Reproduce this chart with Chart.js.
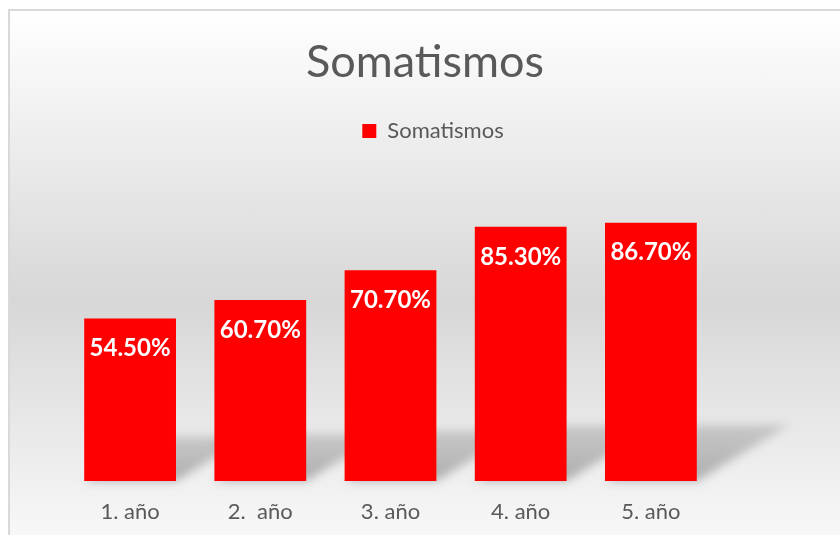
<!DOCTYPE html>
<html>
<head>
<meta charset="utf-8">
<script src="https://cdn.jsdelivr.net/npm/chart.js@4/dist/chart.umd.min.js"></script>
<style>
    html, body { margin: 0; padding: 0; background: #fff; overflow: hidden; }
    .frame {
        position: absolute; left: 8px; top: 9px; width: 900px; height: 620px;
        border: 2px solid #d9d9d9;
        background: linear-gradient(to bottom, #ffffff 0px, #d7d7d7 290px, #ffffff 580px);
    }
    #chart { position: absolute; left: 0; top: 0; }
</style>
</head>
<body>
<div class="frame"></div>
<canvas id="chart" width="840" height="535"></canvas>
<script>
const categories = ["1. año", "2.  año", "3. año", "4. año", "5. año"];
const seriesName = "Somatismos";
const values = [54.5, 60.7, 70.7, 85.3, 86.7];

const textGrey = "#595959";
const barRed = "#ff0000";

/* sombra en perspectiva detrás de las barras */
const barShadow = {
    id: "barShadow",
    beforeDatasetsDraw(chart) {
        const ctx = chart.ctx;
        const meta = chart.getDatasetMeta(0);
        ctx.save();
        ctx.filter = "blur(5px)";
        meta.data.forEach(bar => {
            const h = bar.base - bar.y;
            const dy = 0.12 * h + 25;
            const dx = 1.64 * dy;
            const l = bar.x - bar.width / 2;
            const r = bar.x + bar.width / 2;
            const g = ctx.createLinearGradient(0, bar.base, 0, bar.base - dy);
            g.addColorStop(0, "rgba(165,165,165,0.9)");
            g.addColorStop(1, "rgba(180,180,180,0.65)");
            ctx.fillStyle = g;
            ctx.beginPath();
            ctx.moveTo(l, bar.base);
            ctx.lineTo(r, bar.base);
            ctx.lineTo(r + dx, bar.base - dy);
            ctx.lineTo(l + dx, bar.base - dy);
            ctx.closePath();
            ctx.fill();
        });
        ctx.restore();
    }
};

/* etiquetas de valor dentro de la barra */
const valueLabels = {
    id: "valueLabels",
    afterDatasetsDraw(chart) {
        const ctx = chart.ctx;
        const meta = chart.getDatasetMeta(0);
        ctx.save();
        ctx.fillStyle = "#ffffff";
        ctx.font = "bold 24px Lato";
        ctx.textAlign = "center";
        ctx.textBaseline = "middle";
        meta.data.forEach((bar, i) => {
            ctx.fillText(values[i].toFixed(2) + "%", bar.x, bar.y + 30);
        });
        ctx.restore();
    }
};

/* espacio extra debajo de la leyenda */
const legendGap = {
    id: "legendGap",
    beforeInit(chart) {
        const fit = chart.legend.fit;
        chart.legend.fit = function () {
            fit.bind(chart.legend)();
            this.height += 31;
        };
    },
    /* título y leyenda centrados en todo el marco, no sólo en el área del gráfico */
    afterLayout(chart) {
        chart.titleBlock.left = 10;
        chart.titleBlock.right = 840;
        chart.legend.left = 26;
        chart.legend.right = 840;
    }
};

new Chart(document.getElementById("chart"), {
    type: "bar",
    plugins: [barShadow, valueLabels, legendGap],
    data: {
        labels: categories,
        datasets: [{
            label: seriesName,
            data: values,
            backgroundColor: barRed,
            borderWidth: 0,
            barPercentage: 0.705,
            categoryPercentage: 1
        }]
    },
    options: {
        responsive: false,
        animation: false,
        layout: {
            padding: { top: 35, left: 65, right: 124, bottom: 11 }
        },
        scales: {
            x: {
                grid: { display: false, drawTicks: false },
                border: { display: false },
                ticks: {
                    color: textGrey,
                    font: { family: "Lato", size: 22 },
                    padding: 18
                },
                afterFit(axis) {
                    axis.height = 43;
                }
            },
            y: {
                display: false,
                min: 0,
                max: 100
            }
        },
        plugins: {
            title: {
                display: true,
                text: "Somatismos",
                color: textGrey,
                font: { family: "Lato", size: 45, weight: "normal" },
                padding: { top: 0, bottom: 21 }
            },
            legend: {
                labels: {
                    color: textGrey,
                    font: { family: "Lato", size: 22 },
                    boxWidth: 14,
                    boxHeight: 14,
                    padding: 10
                }
            },
            tooltip: { enabled: false }
        }
    }
});
</script>
</body>
</html>
